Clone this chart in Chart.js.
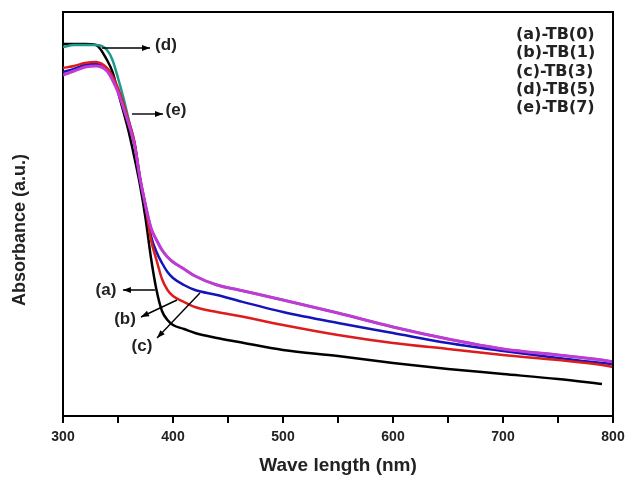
<!DOCTYPE html>
<html>
<head>
<meta charset="utf-8">
<script src="https://cdn.jsdelivr.net/npm/chart.js@4/dist/chart.umd.min.js"></script>
<style>
  html, body { margin: 0; padding: 0; background: #fff; overflow: hidden; }
  #wrap { width: 625px; height: 479px; position: relative; }
</style>
</head>
<body>
<div id="wrap"><canvas id="uv-chart"></canvas></div>
<script>
// wavelength grid (nm) shared by all spectra
const wavelengths = [300, 310, 320, 330, 340, 345, 350, 355, 360, 365, 370, 375, 380, 385, 390, 395, 400,
  410, 420, 440, 460, 500, 550, 600, 650, 700, 750, 790, 800];

// absorbance (a.u.)
const tb0 = [3.72, 3.72, 3.72, 3.71, 3.56, 3.44, 3.24, 3.04, 2.83, 2.58, 2.31, 1.98, 1.58, 1.26, 1.05, 0.96, 0.91,
  0.87, 0.83, 0.78, 0.74, 0.66, 0.60, 0.53, 0.47, 0.42, 0.37, 0.32, null];
const tb1 = [3.48, 3.50, 3.53, 3.54, 3.48, 3.40, 3.28, 3.12, 2.94, 2.74, 2.38, 2.10, 1.76, 1.56, 1.37, 1.26, 1.20,
  1.14, 1.09, 1.04, 1.00, 0.91, 0.81, 0.73, 0.67, 0.61, 0.56, 0.51, 0.49];
const tb3 = [3.44, 3.47, 3.51, 3.52, 3.46, 3.38, 3.26, 3.10, 2.92, 2.72, 2.37, 2.09, 1.80, 1.64, 1.53, 1.44, 1.38,
  1.31, 1.26, 1.21, 1.15, 1.04, 0.93, 0.83, 0.73, 0.65, 0.58, 0.53, 0.52];
const tb5 = [3.69, 3.71, 3.71, 3.71, 3.66, 3.56, 3.38, 3.18, 2.95, 2.73, 2.38, 2.11, 1.88, 1.76, 1.66, 1.59, 1.54,
  1.47, 1.40, 1.31, 1.26, 1.16, 1.03, 0.89, 0.77, 0.67, 0.61, 0.56, 0.54];
const tb7 = [3.41, 3.45, 3.49, 3.50, 3.45, 3.36, 3.24, 3.08, 2.91, 2.71, 2.38, 2.11, 1.88, 1.76, 1.66, 1.59, 1.54,
  1.47, 1.40, 1.31, 1.26, 1.16, 1.03, 0.89, 0.77, 0.67, 0.61, 0.56, 0.54];

const seriesLabels = ['(a)-TB(0)', '(b)-TB(1)', '(c)-TB(3)', '(d)-TB(5)', '(e)-TB(7)'];
const xTicks = [300, 400, 500, 600, 700, 800];

// arrow callouts, in data units: [text, tailX, tailY, headX, headY, textX, textY]
const callouts = [
  ['(d)', 335.5, 3.68, 379.1, 3.68, 393.6, 3.71],
  ['(e)', 362.7, 3.02, 390.9, 3.02, 402.7, 3.06],
  ['(a)', 383.6, 1.26, 354.5, 1.26, 339.1, 1.26],
  ['(b)', 403.6, 1.16, 370.9, 0.99, 356.4, 0.97],
  ['(c)', 424.5, 1.23, 385.5, 0.78, 371.8, 0.70]
];

function toPoints(values) {
  return wavelengths.map((w, i) => ({ x: w, y: values[i] }));
}

const BOLD = '"Liberation Sans", Arial, sans-serif';

// frame, legend text, axis title and arrow labels
const decorations = {
  id: 'decorations',
  afterDatasetsDraw(chart) {
    const { ctx, chartArea, scales } = chart;
    const x = scales.x, y = scales.y;
    ctx.save();

    // top/right frame
    ctx.strokeStyle = '#000';
    ctx.lineWidth = 2;
    ctx.beginPath();
    ctx.moveTo(chartArea.left, chartArea.top);
    ctx.lineTo(chartArea.right, chartArea.top);
    ctx.lineTo(chartArea.right, chartArea.bottom);
    ctx.stroke();

    // arrows
    ctx.lineWidth = 1.4;
    ctx.fillStyle = '#000';
    callouts.forEach(c => {
      const x1 = x.getPixelForValue(c[1]), y1 = y.getPixelForValue(c[2]);
      const x2 = x.getPixelForValue(c[3]), y2 = y.getPixelForValue(c[4]);
      const ang = Math.atan2(y2 - y1, x2 - x1);
      ctx.beginPath();
      ctx.moveTo(x1, y1);
      ctx.lineTo(x2, y2);
      ctx.stroke();
      ctx.beginPath();
      ctx.moveTo(x2, y2);
      ctx.lineTo(x2 - 8 * Math.cos(ang) + 3 * Math.sin(ang), y2 - 8 * Math.sin(ang) - 3 * Math.cos(ang));
      ctx.lineTo(x2 - 8 * Math.cos(ang) - 3 * Math.sin(ang), y2 - 8 * Math.sin(ang) + 3 * Math.cos(ang));
      ctx.closePath();
      ctx.fill();

      ctx.font = 'bold 17px ' + BOLD;
      ctx.fillStyle = '#222';
      ctx.textAlign = 'center';
      ctx.textBaseline = 'middle';
      ctx.fillText(c[0], x.getPixelForValue(c[5]), y.getPixelForValue(c[6]));
      ctx.fillStyle = '#000';
    });

    // legend as plain text
    ctx.font = 'bold 16px "DejaVu Sans", sans-serif';
    ctx.fillStyle = '#222';
    ctx.textAlign = 'left';
    ctx.textBaseline = 'middle';
    seriesLabels.forEach((t, i) => {
      ctx.fillText(t, chartArea.right - 97, chartArea.top + 23 + i * 18.3);
    });

    // y title
    ctx.translate(20, 230);
    ctx.rotate(-Math.PI / 2);
    ctx.textAlign = 'center';
    ctx.font = 'bold 18px ' + BOLD;
    ctx.fillText('Absorbance (a.u.)', 0, 0);
    ctx.restore();
  }
};

const common = { fill: false, pointRadius: 0, borderWidth: 2.5, cubicInterpolationMode: 'monotone', spanGaps: false };

new Chart(document.getElementById('uv-chart'), {
  type: 'line',
  data: {
    datasets: [
      { ...common, label: seriesLabels[0], data: toPoints(tb0), borderColor: '#000000', order: 4 },
      { ...common, label: seriesLabels[1], data: toPoints(tb1), borderColor: '#dd1c1c', order: 1 },
      { ...common, label: seriesLabels[2], data: toPoints(tb3), borderColor: '#1414b8', order: 2 },
      { ...common, label: seriesLabels[3], data: toPoints(tb5), borderColor: '#1f9a8a', order: 3 },
      { ...common, label: seriesLabels[4], data: toPoints(tb7), borderColor: '#c23ad6', borderWidth: 3, order: 0 }
    ]
  },
  options: {
    responsive: true,
    maintainAspectRatio: false,
    animation: false,
    layout: { padding: { top: 12, right: 12, left: 0, bottom: 0 } },
    plugins: { legend: { display: false }, tooltip: { enabled: false } },
    scales: {
      x: {
        type: 'linear',
        min: 300,
        max: 800,
        afterFit(scale) {
          scale.height = 63;
          scale.paddingLeft = 0;
          scale.paddingRight = 0;
        },
        afterBuildTicks(scale) {
          scale.ticks = [];
          for (let v = 300; v <= 800; v += 50) scale.ticks.push({ value: v });
        },
        ticks: {
          autoSkip: false,
          maxRotation: 0,
          padding: 6,
          color: '#222',
          font: { family: BOLD, size: 14, weight: 'bold' },
          callback: v => xTicks.includes(v) ? String(v) : ''
        },
        grid: { drawOnChartArea: false, tickLength: 7, color: '#000', lineWidth: 2 },
        border: { display: true, color: '#000', width: 2 },
        title: {
          display: true,
          text: 'Wave length (nm)',
          color: '#222',
          font: { family: BOLD, size: 19, weight: 'bold' },
          padding: { top: 0, bottom: 2 }
        }
      },
      y: {
        min: 0,
        max: 4.04,
        afterFit(scale) { scale.width = 63; },
        ticks: { display: false },
        grid: { display: false },
        border: { display: true, color: '#000', width: 2 }
      }
    }
  },
  plugins: [decorations]
});
</script>
</body>
</html>
